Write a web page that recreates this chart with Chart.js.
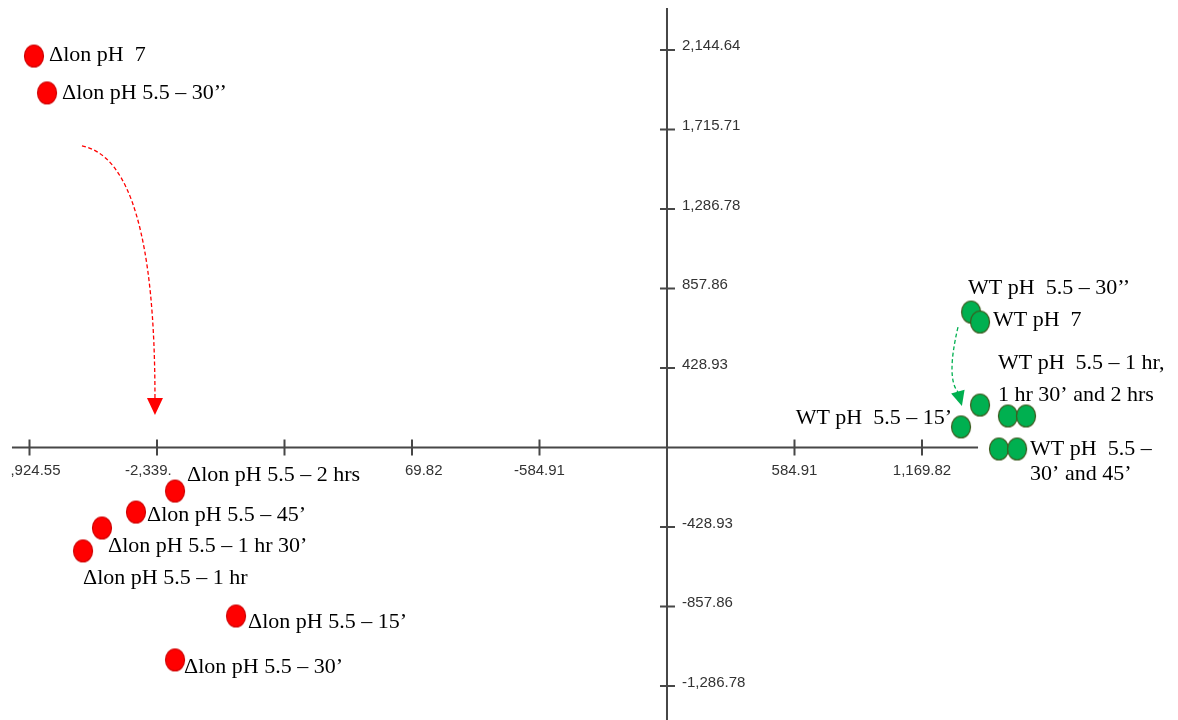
<!DOCTYPE html>
<html>
<head>
<meta charset="utf-8">
<script src="https://cdn.jsdelivr.net/npm/chart.js@4/dist/chart.umd.min.js"></script>
<style>
    body { margin: 0; background: #fff; }
    #wrap { width: 1178px; height: 720px; }
</style>
</head>
<body>
<div id="wrap"><canvas id="myChart"></canvas></div>
<script>
// ---- data ----
const redNames = ['Δlon pH  7', 'Δlon pH 5.5 – 30’’', 'Δlon pH 5.5 – 2 hrs', 'Δlon pH 5.5 – 45’',
    'Δlon pH 5.5 – 1 hr 30’', 'Δlon pH 5.5 – 1 hr', 'Δlon pH 5.5 – 15’', 'Δlon pH 5.5 – 30’'];
const redX = [-2904, -2844, -2257, -2436, -2592, -2679, -1977, -2257];
const redY = [2112, 1913, -235, -348, -434, -558, -909, -1146];

const greenNames = ['WT pH  5.5 – 30’’', 'WT pH  7', ['WT pH  5.5 – 1 hr,', '1 hr 30’ and 2 hrs'], '', '',
    'WT pH  5.5 – 15’', '', ['WT pH  5.5 –', '30’ and 45’']];
const greenX = [1395, 1436, 1436, 1564, 1647, 1349, 1523, 1606];
const greenY = [731, 677, 229, 170, 170, 111, -8, -8];

const xTickValues = [-2924.55, -2339.64, -1754.73, -1169.82, -584.91, 584.91, 1169.82];
const xTickLabels = [',924.55', '-2,339.', '', '69.82', '-584.91', '584.91', '1,169.82'];
const yTickValues = [2144.64, 1715.71, 1286.78, 857.86, 428.93, -428.93, -857.86, -1286.78];
const yTickLabels = ['2,144.64', '1,715.71', '1,286.78', '857.86', '428.93', '-428.93', '-857.86', '-1,286.78'];

// arrows (data coords): start, control, end, tip
const redArrow = [[-2684, 1627], [-2349, 1551], [-2349, 267], [-2349, 175]];
const greenArrow = [[1335, 650], [1280, 375], [1335, 299], [1353, 224]];

// ---- layout / styles ----
const xLabelAnchor = [['right', 31], ['left', -32], ['center', 0], ['left', -7], ['center', 0], ['center', 0], ['center', 0]];
const redLabelPos = [[15, -1], [15, 0], [12, -16], [11, 3], [6, 18], [0, 27], [12, 6], [9, 7]];
const greenLabelPos = [[-3, -24, 'left'], [13, -2, 'left'], [18, -42, 'left', 32], null, null,
    [-9, -9, 'right'], null, [13, 0, 'left', 25]];

function ellipseMarker(fill, stroke) {
    const c = document.createElement('canvas');
    c.width = 22; c.height = 25;
    const g = c.getContext('2d');
    g.beginPath();
    g.ellipse(11, 12.5, 9.5, 11, 0, 0, Math.PI * 2);
    g.fillStyle = fill;
    g.fill();
    g.lineWidth = 1.2;
    g.strokeStyle = stroke;
    g.stroke();
    return c;
}

const redMarker = ellipseMarker('#ff0000', '#d00000');
const greenMarker = ellipseMarker('#00b050', '#3d5a1e');

const axisPlugin = {
    id: 'crossAxes',
    beforeDatasetsDraw(chart) {
        const c = chart.ctx;
        const xs = chart.scales.x, ys = chart.scales.y;
        const x0 = xs.getPixelForValue(0), y0 = ys.getPixelForValue(0);
        c.save();
        c.strokeStyle = '#474747';
        c.lineWidth = 2;
        c.beginPath();
        c.moveTo(xs.getPixelForValue(-3005), y0);
        c.lineTo(xs.getPixelForValue(1427), y0);
        c.moveTo(x0, ys.getPixelForValue(2371));
        c.lineTo(x0, ys.getPixelForValue(-1480));
        xTickValues.forEach(v => {
            const px = xs.getPixelForValue(v);
            c.moveTo(px, y0 - 8);
            c.lineTo(px, y0 + 8);
        });
        yTickValues.forEach(v => {
            const py = ys.getPixelForValue(v);
            c.moveTo(x0 - 7, py);
            c.lineTo(x0 + 8, py);
        });
        c.stroke();

        c.fillStyle = '#333';
        c.font = '15px "Liberation Sans", Arial, sans-serif';
        c.textBaseline = 'alphabetic';
        xTickValues.forEach((v, i) => {
            const a = xLabelAnchor[i];
            c.textAlign = a[0];
            c.fillText(xTickLabels[i], xs.getPixelForValue(v) + a[1], y0 + 27);
        });
        c.textAlign = 'left';
        yTickValues.forEach((v, i) => {
            c.fillText(yTickLabels[i], x0 + 15, ys.getPixelForValue(v) + 0.5);
        });
        c.restore();
    },
    afterDatasetsDraw(chart) {
        const c = chart.ctx;
        const xs = chart.scales.x, ys = chart.scales.y;
        c.save();
        c.fillStyle = '#000';
        c.font = '22px "Liberation Serif", "Times New Roman", serif';
        c.textBaseline = 'middle';
        redNames.forEach((name, i) => {
            const p = redLabelPos[i];
            c.textAlign = 'left';
            c.fillText(name, xs.getPixelForValue(redX[i]) + p[0], ys.getPixelForValue(redY[i]) + p[1]);
        });
        greenNames.forEach((name, i) => {
            const p = greenLabelPos[i];
            if (!p || !name) return;
            c.textAlign = p[2];
            const lines = Array.isArray(name) ? name : [name];
            lines.forEach((ln, k) => {
                c.fillText(ln, xs.getPixelForValue(greenX[i]) + p[0],
                    ys.getPixelForValue(greenY[i]) + p[1] + k * (p[3] || 0));
            });
        });

        drawArrow(c, xs, ys, redArrow, '#ff0000', 17, 8);
        drawArrow(c, xs, ys, greenArrow, '#00b050', 15, 7);
        c.restore();
    }
};

function drawArrow(c, xs, ys, pts, color, len, hw) {
    const p = pts.map(q => [xs.getPixelForValue(q[0]), ys.getPixelForValue(q[1])]);
    c.save();
    c.strokeStyle = color;
    c.lineWidth = 1.3;
    c.setLineDash([4, 2.5]);
    c.beginPath();
    c.moveTo(p[0][0], p[0][1]);
    c.quadraticCurveTo(p[1][0], p[1][1], p[2][0], p[2][1]);
    c.stroke();
    c.setLineDash([]);
    let dx = p[3][0] - p[2][0], dy = p[3][1] - p[2][1];
    const d = Math.hypot(dx, dy);
    dx /= d; dy /= d;
    const bx = p[3][0] - dx * len, by = p[3][1] - dy * len;
    c.fillStyle = color;
    c.beginPath();
    c.moveTo(p[3][0], p[3][1]);
    c.lineTo(bx - dy * hw, by + dx * hw);
    c.lineTo(bx + dy * hw, by - dx * hw);
    c.closePath();
    c.fill();
    c.restore();
}

const ctx = document.getElementById('myChart');

let chart = new Chart(ctx, {
    type: 'scatter',
    data: {
        datasets: [{
            label: 'Δlon',
            data: redX.map((x, i) => ({ x: x, y: redY[i] })),
            pointStyle: redMarker,
            pointRadius: 11
        }, {
            label: 'WT',
            data: greenX.map((x, i) => ({ x: x, y: greenY[i] })),
            pointStyle: greenMarker,
            pointRadius: 11
        }]
    },
    options: {
        responsive: true,
        maintainAspectRatio: false,
        animation: false,
        layout: { padding: 0, autoPadding: false },
        plugins: {
            legend: { display: false },
            tooltip: { enabled: false }
        },
        scales: {
            x: { type: 'linear', min: -3059.9, max: 2344.3, display: false },
            y: { type: 'linear', min: -1470.2, max: 2414.4, display: false }
        }
    },
    plugins: [axisPlugin]
});
</script>
</body>
</html>
